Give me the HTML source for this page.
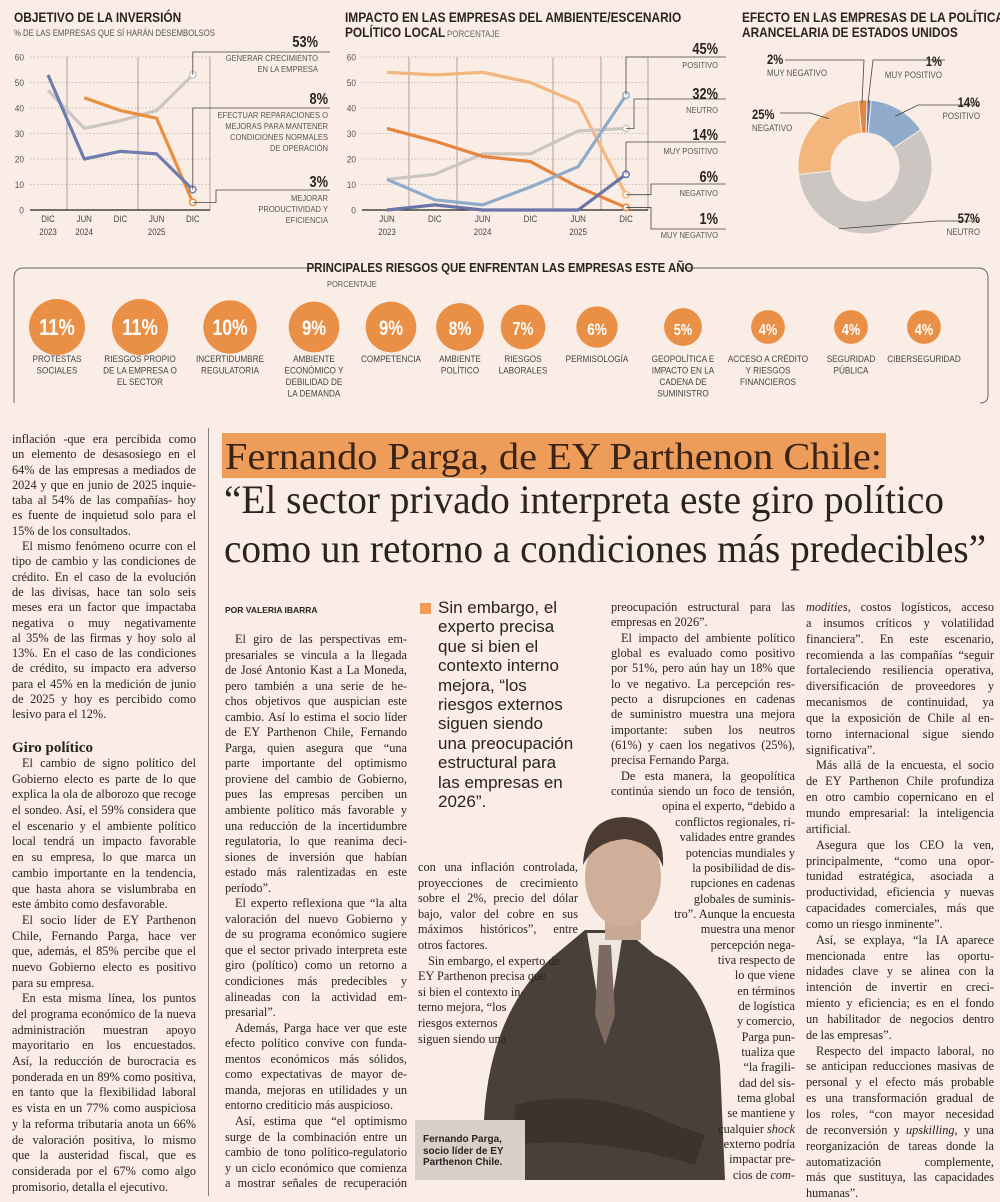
<!DOCTYPE html>
<html lang="es"><head><meta charset="utf-8">
<style>
html,body{margin:0;padding:0;}
body{width:1000px;height:1196px;background:#f9ede5;position:relative;overflow:hidden;font-family:"Liberation Serif",serif;color:#2b231f;}
svg text{font-family:"Liberation Sans",sans-serif;}
.col{position:absolute;font-size:12.3px;}
.col div{white-space:nowrap;text-align:justify;text-align-last:justify;height:var(--lh);line-height:var(--lh);}
.col div.l{text-align-last:left;}
.col div.i{padding-left:10px;}
.col div.r{text-align-last:right;}
.col div.h{font-weight:bold;font-size:15px;text-align-last:left;}
</style></head>
<body>
<svg id="top" width="1000" height="410" style="position:absolute;left:0;top:0">
  <text x="14" y="22" font-size="13.5" font-weight="bold" fill="#2b231f">OBJETIVO DE LA INVERSIÓN</text>
  <text x="14" y="36" font-size="8.8" fill="#555">% DE LAS EMPRESAS QUE SÍ HARÁN DESEMBOLSOS</text>
  <text x="345" y="22" font-size="13.5" font-weight="bold" fill="#2b231f">IMPACTO EN LAS EMPRESAS DEL AMBIENTE/ESCENARIO</text>
  <text x="345" y="37" font-size="13.5" font-weight="bold" fill="#2b231f">POLÍTICO LOCAL</text>
  <text x="447" y="37" font-size="9" fill="#666">PORCENTAJE</text>
  <text x="742" y="22" font-size="13.5" font-weight="bold" fill="#2b231f">EFECTO EN LAS EMPRESAS DE LA POLÍTICA</text>
  <text x="742" y="37" font-size="13.5" font-weight="bold" fill="#2b231f">ARANCELARIA DE ESTADOS UNIDOS</text>
  <g id="c1"></g><g id="c2"></g><g id="c3"></g><g id="c4"></g>
  <path d="M14,403 L14,278 Q14,268 24,268 L318,268 M680,268 L978,268 Q988,268 988,278 L988,395 Q988,403 980,403" fill="none" stroke="#666" stroke-width="1"/>
  <text x="500" y="272" font-size="13" font-weight="bold" fill="#2b231f" text-anchor="middle">PRINCIPALES RIESGOS QUE ENFRENTAN LAS EMPRESAS ESTE AÑO</text>
  <text x="327" y="287" font-size="8.5" fill="#555">PORCENTAJE</text>
</svg>
<script>
const NS="http://www.w3.org/2000/svg";
function mk(p,tag,attrs,txt){const e=document.createElementNS(NS,tag);for(const k in attrs)e.setAttribute(k,attrs[k]);if(txt!==undefined)e.textContent=txt;p.appendChild(e);return e;}
// ---- Chart 1 data
const c1Periods=["DIC|2023","JUN|2024","DIC|","JUN|2025","DIC|"];
const c1Crecimiento=[47,32,35,39,53];
const c1Reparaciones=[53,20,23,22,8];
const c1Productividad=[null,44,39,36,3];
const c1Ticks=[0,10,20,30,40,50,60];
// ---- Chart 2 data
const c2Periods=["JUN|2023","DIC|","JUN|2024","DIC|","JUN|2025","DIC|"];
const c2Negativo=[54,53,54,50,42,6];
const c2MuyNegativo=[32,27,21,19,9,1];
const c2Neutro=[12,14,22,22,31,32];
const c2Positivo=[12,4,2,9,17,45];
const c2MuyPositivo=[0,2,0,0,0,14];
// ---- Donut data
const dLabels=["MUY POSITIVO","POSITIVO","NEUTRO","NEGATIVO","MUY NEGATIVO"];
const dValues=[1,14,57,25,2];
// ---- Risks data
const rLabels=[["PROTESTAS","SOCIALES"],["RIESGOS PROPIO","DE LA EMPRESA O","EL SECTOR"],["INCERTIDUMBRE","REGULATORIA"],["AMBIENTE","ECONÓMICO Y","DEBILIDAD DE","LA DEMANDA"],["COMPETENCIA"],["AMBIENTE","POLÍTICO"],["RIESGOS","LABORALES"],["PERMISOLOGÍA"],["GEOPOLÍTICA E","IMPACTO EN LA","CADENA DE","SUMINISTRO"],["ACCESO A CRÉDITO","Y RIESGOS","FINANCIEROS"],["SEGURIDAD","PÚBLICA"],["CIBERSEGURIDAD"]];
const rValues=[11,11,10,9,9,8,7,6,5,4,4,4];

function lineChart(g,name,x0,x1,xs,ticks,series,vlines){
  const y=v=>210-v*(153/60);
  ticks.forEach(t=>{
    const l=mk(g,"line",{x1:x0,x2:x1,y1:y(t),y2:y(t),stroke:"#b9b0aa","stroke-dasharray":"1.5,2","stroke-width":0.8});
    
    
    const tx=mk(g,"text",{x:x0-6,y:y(t)+3.5,"font-size":9.5,fill:"#555","text-anchor":"end"},t);
    
    
  });
  vlines.forEach(v=>{const l=mk(g,"line",{x1:v,x2:v,y1:57,y2:210,stroke:"#8a817c","stroke-width":0.7});
    
    });
  const ax=mk(g,"line",{x1:x0,x2:x1,y1:210,y2:210,stroke:"#222","stroke-width":1.3});
  
  
  series.forEach(s=>{
    let d="";s.vals.forEach((v,i)=>{if(v===null)return;d+=(d?"L":"M")+xs[i]+","+y(v);});
    const p=mk(g,"path",{d:d,fill:"none",stroke:s.c,"stroke-width":3.2,"stroke-linejoin":"round"});
    
    
    const last=s.vals.length-1;
    const c=mk(g,"circle",{cx:xs[last],cy:y(s.vals[last]),r:3.2,fill:"#fff",stroke:s.c,"stroke-width":1.5});
    
    
  });
  return y;
}
function xLabels(g,xs,periods){
  periods.forEach((p,i)=>{const [a,b]=p.split("|");
    const t=mk(g,"text",{x:xs[i],y:222,"font-size":9,fill:"#444","text-anchor":"middle"},a);
    
    
    if(b){const t2=mk(g,"text",{x:xs[i],y:235,"font-size":9,fill:"#444","text-anchor":"middle"},b);
      
      }
  });
}
function callout(g,name,big,lines,tx,ty,pts,anchor){
  const p=mk(g,"polyline",{points:pts,fill:"none",stroke:"#444","stroke-width":0.8});
  
  
  const b=mk(g,"text",{x:tx,y:ty,"font-size":16,"font-weight":"bold",fill:"#2b231f","text-anchor":anchor},big);
  
  
  lines.forEach((l,i)=>{const t=mk(g,"text",{x:tx,y:ty+14+i*11,"font-size":8.6,fill:"#555","text-anchor":anchor},l);
    
    });
}
// Chart 1
(function(){
  const g=document.getElementById("c1");
  const x=i=>48+i*36.2;
  const xs=c1Periods.map((_,i)=>x(i));
  const y=lineChart(g,"investment",30,210,xs,c1Ticks,[
    {n:"crecimiento",vals:c1Crecimiento,c:"#cbc6c2"},
    {n:"productividad",vals:c1Productividad,c:"#e98f3f"},
    {n:"reparaciones",vals:c1Reparaciones,c:"#6e7dad"}],[67,138,210]);
  xLabels(g,xs,c1Periods);
  const L=xs[4];
  callout(g,"crecimiento",c1Crecimiento[4]+"%",["GENERAR CRECIMIENTO","EN LA EMPRESA"],318,47,`${L},${y(c1Crecimiento[4])} ${L},52 330,52`,"end");
  callout(g,"reparaciones",c1Reparaciones[4]+"%",["EFECTUAR REPARACIONES O","MEJORAS PARA MANTENER","CONDICIONES NORMALES","DE OPERACIÓN"],328,104,`${L},${y(c1Reparaciones[4])} ${L},108 330,108`,"end");
  callout(g,"productividad",c1Productividad[4]+"%",["MEJORAR","PRODUCTIVIDAD Y","EFICIENCIA"],328,187,`${L},${y(c1Productividad[4])} 216,${y(c1Productividad[4])} 216,190 330,190`,"end");
})();
// Chart 2
(function(){
  const g=document.getElementById("c2");
  const x=i=>387+i*47.8;
  const xs=c2Periods.map((_,i)=>x(i));
  const y=lineChart(g,"political",362,648,xs,c1Ticks,[
    {n:"negativo",vals:c2Negativo,c:"#f3b67c"},
    {n:"neutro",vals:c2Neutro,c:"#cbc6c2"},
    {n:"muy-negativo",vals:c2MuyNegativo,c:"#e6853d"},
    {n:"positivo",vals:c2Positivo,c:"#90acca"},
    {n:"muy-positivo",vals:c2MuyPositivo,c:"#6a76a6"}],[409,457,553,601,648]);
  xLabels(g,xs,c2Periods);
  const L=xs[5];
  callout(g,"positivo",c2Positivo[5]+"%",["POSITIVO"],718,54,`${L},${y(c2Positivo[5])} ${L},57 726,57`,"end");
  callout(g,"neutro",c2Neutro[5]+"%",["NEUTRO"],718,99,`${L},${y(c2Neutro[5])} 634,${y(c2Neutro[5])} 634,99 726,99`,"end");
  callout(g,"muy-positivo",c2MuyPositivo[5]+"%",["MUY POSITIVO"],718,140,`${L},${y(c2MuyPositivo[5])} ${L},142 726,142`,"end");
  callout(g,"negativo",c2Negativo[5]+"%",["NEGATIVO"],718,182,`${L},${y(c2Negativo[5])} 651,${y(c2Negativo[5])} 651,184 726,184`,"end");
  callout(g,"muy-negativo",c2MuyNegativo[5]+"%",["MUY NEGATIVO"],718,224,`${L},${y(c2MuyNegativo[5])} 651,${y(c2MuyNegativo[5])} 651,229 726,229`,"end");
})();
// Donut
(function(){
  const g=document.getElementById("c3");
  const cx=865,cy=167,R=67,r=34;
  const cols=["#6a76a6","#90acca","#cbc6c2","#f3b67c","#e6853d"];
  const tot=dValues.reduce((a,b)=>a+b,0);
  let a0=-Math.PI/2+0.03;
  const mids=[];
  dValues.forEach((v,i)=>{
    const a1=a0+v/tot*2*Math.PI;
    const P=(rad,a)=>[cx+rad*Math.cos(a),cy+rad*Math.sin(a)];
    const big=(a1-a0)>Math.PI?1:0;
    const [x1,y1]=P(R,a0),[x2,y2]=P(R,a1),[x3,y3]=P(r,a1),[x4,y4]=P(r,a0);
    const p=mk(g,"path",{d:`M${x1},${y1}A${R},${R} 0 ${big} 1 ${x2},${y2}L${x3},${y3}A${r},${r} 0 ${big} 0 ${x4},${y4}Z`,fill:cols[i],stroke:"#f9ede5","stroke-width":1});
    
    
    mids.push(a0+(a1-a0)/2);a0=a1;
  });
  const L=[[942,66,"end",`${cx+3},${cy-R+3} 873,60 945,60`],
           [980,107,"end",`${cx+R*0.88*Math.cos(mids[1])},${cy+R*0.88*Math.sin(mids[1])} 918,105 980,105`],
           [980,223,"end",`${cx+R*Math.cos(mids[2]+0.75)},${cy+R*Math.sin(mids[2]+0.75)} 937,221 980,221`],
           [752,119,"start",`${cx+R*0.9*Math.cos(mids[3]+0.25)},${cy+R*0.9*Math.sin(mids[3]+0.25)} 810,113 780,113`],
           [767,64,"start",`${cx-3},${cy-R+3} 864,60 785,60`]];
  const names=["muy-positivo","positivo","neutro","negativo","muy-negativo"];
  dValues.forEach((v,i)=>{
    const [tx,ty,an,pts]=L[i];
    const pl=mk(g,"polyline",{points:pts,fill:"none",stroke:"#444","stroke-width":0.8});
    
    
    const b=mk(g,"text",{x:tx,y:ty,"font-size":14,"font-weight":"bold",fill:"#2b231f","text-anchor":an},v+"%");
    
    
    const t=mk(g,"text",{x:tx,y:ty+12,"font-size":9,fill:"#555","text-anchor":an},dLabels[i]);
    
    
  });
})();
// Risks
(function(){
  const g=document.getElementById("c4");
  const cxs=[57,140,230,314,391,460,523,597,683,768,851,924];
  rValues.forEach((v,i)=>{
    const rad=28*Math.sqrt(v/11);
    const c=mk(g,"circle",{cx:cxs[i],cy:327,r:rad,fill:"#e98f46"});
    
    
    const t=mk(g,"text",{x:cxs[i],y:327+8,"font-size":Math.max(16,23*Math.sqrt(v/11)),"font-weight":"bold",fill:"#fff","text-anchor":"middle"},v+"%");
    
    
    rLabels[i].forEach((l,j)=>{const tl=mk(g,"text",{x:cxs[i],y:362+j*11.5,"font-size":9.3,fill:"#444","text-anchor":"middle"},l);
      
      });
  });
})();
// condense sans text to emulate a narrow typeface
document.querySelectorAll('#top text').forEach(t=>{
  const w=t.getComputedTextLength();
  const fs=parseFloat(t.getAttribute('font-size'));
  const f=fs>=14?0.8:0.88;
  if(w>0){t.setAttribute('textLength',(w*f).toFixed(1));t.setAttribute('lengthAdjust','spacingAndGlyphs');}
});
</script>

<div style="position:absolute;left:208px;top:428px;width:1px;height:768px;background:#8a817c"></div>

<svg width="780" height="170" style="position:absolute;left:210px;top:425px">
  <rect x="12" y="8" width="664" height="45" fill="#ee9c5a"/>
  <text x="15" y="44" font-size="38" fill="#3a2418" textLength="657" lengthAdjust="spacingAndGlyphs" style="font-family:'Liberation Serif',serif">Fernando Parga, de EY Parthenon Chile:</text>
  <text x="14" y="88" font-size="40" fill="#2b231f" textLength="720" lengthAdjust="spacingAndGlyphs" style="font-family:'Liberation Serif',serif">“El sector privado interpreta este giro político</text>
  <text x="14" y="137" font-size="40" fill="#2b231f" textLength="762" lengthAdjust="spacingAndGlyphs" style="font-family:'Liberation Serif',serif">como un retorno a condiciones más predecibles”</text>
</svg>

<div class="col" style="left:12px;top:432px;width:184px;--lh:15.3px">
<div>inflación -que era percibida como</div><div>un elemento de desasosiego en el</div><div>64% de las empresas a mediados de</div><div>2024 y que en junio de 2025 inquie-</div><div>taba al 54% de las compañías- hoy</div><div>es fuente de inquietud solo para el</div><div class="l">15% de los consultados.</div>
<div class="i">El mismo fenómeno ocurre con el</div><div>tipo de cambio y las condiciones de</div><div>crédito. En el caso de la evolución</div><div>de las divisas, hace tan solo seis</div><div>meses era un factor que impactaba</div><div>negativa o muy negativamente</div><div>al 35% de las firmas y hoy solo al</div><div>13%. En el caso de las condiciones</div><div>de crédito, su impacto era adverso</div><div>para el 45% en la medición de junio</div><div>de 2025 y hoy es percibido como</div><div class="l">lesivo para el 12%.</div>
<div class="l"></div><div class="h" style="height:18px;line-height:20px">Giro político</div>
</div>
<div class="col" style="left:12px;top:756px;width:184px;--lh:15.7px">
<div class="i">El cambio de signo político del</div><div>Gobierno electo es parte de lo que</div><div>explica la ola de alborozo que recoge</div><div>el sondeo. Así, el 59% considera que</div><div>el escenario y el ambiente político</div><div>local tendrá un impacto favorable</div><div>en su empresa, lo que marca un</div><div>cambio importante en la tendencia,</div><div>que hasta ahora se vislumbraba en</div><div class="l">este ámbito como desfavorable.</div>
<div class="i">El socio líder de EY Parthenon</div><div>Chile, Fernando Parga, hace ver</div><div>que, además, el 85% percibe que el</div><div>nuevo Gobierno electo es positivo</div><div class="l">para su empresa.</div>
<div class="i">En esta misma línea, los puntos</div><div>del programa económico de la nueva</div><div>administración muestran apoyo</div><div>mayoritario en los encuestados.</div><div>Así, la reducción de burocracia es</div><div>ponderada en un 89% como positiva,</div><div>en tanto que la flexibilidad laboral</div><div>es vista en un 77% como auspiciosa</div><div>y la reforma tributaria anota un 66%</div><div>de valoración positiva, lo mismo</div><div>que la austeridad fiscal, que es</div><div>considerada por el 67% como algo</div><div class="l">promisorio, detalla el ejecutivo.</div>
</div>

<div style="position:absolute;left:225px;top:605px;font:bold 8.5px 'Liberation Sans',sans-serif;color:#2b231f">POR VALERIA IBARRA</div>

<div class="col" style="left:225px;top:632px;width:182px;--lh:15.55px">
<div class="i">El giro de las perspectivas em-</div><div>presariales se vincula a la llegada</div><div>de José Antonio Kast a La Moneda,</div><div>pero también a una serie de he-</div><div>chos objetivos que auspician este</div><div>cambio. Así lo estima el socio líder</div><div>de EY Parthenon Chile, Fernando</div><div>Parga, quien asegura que “una</div><div>parte importante del optimismo</div><div>proviene del cambio de Gobierno,</div><div>pues las empresas perciben un</div><div>ambiente político más favorable y</div><div>una reducción de la incertidumbre</div><div>regulatoria, lo que reanima deci-</div><div>siones de inversión que habían</div><div>estado más ralentizadas en este</div><div class="l">período”.</div>
<div class="i">El experto reflexiona que “la alta</div><div>valoración del nuevo Gobierno y</div><div>de su programa económico sugiere</div><div>que el sector privado interpreta este</div><div>giro (político) como un retorno a</div><div>condiciones más predecibles y</div><div>alineadas con la actividad em-</div><div class="l">presarial”.</div>
<div class="i">Además, Parga hace ver que este</div><div>efecto político convive con funda-</div><div>mentos económicos más sólidos,</div><div>como expectativas de mayor de-</div><div>manda, mejoras en utilidades y un</div><div class="l">entorno crediticio más auspicioso.</div>
<div class="i">Así, estima que “el optimismo</div><div>surge de la combinación entre un</div><div>cambio de tono político-regulatorio</div><div>y un ciclo económico que comienza</div><div>a mostrar señales de recuperación</div>
</div>

<div style="position:absolute;left:420px;top:598px;width:180px;font:17px/19.4px 'Liberation Sans',sans-serif;color:#2b231f">
<span style="position:absolute;left:0;top:5px;width:11px;height:11px;background:#ee9c5a"></span>
<div style="padding-left:18px">Sin embargo, el<br>experto precisa<br>que si bien el<br>contexto interno<br>mejora, “los<br>riesgos externos<br>siguen siendo<br>una preocupación<br>estructural para<br>las empresas en<br>2026”.</div>
</div>

<svg width="250" height="380" style="position:absolute;left:475px;top:805px">
  <path d="M5,375 L10,300 Q20,200 80,150 L110,125 L150,125 L180,150 Q235,175 245,260 L250,375 Z" fill="#4a403a"/>
  <path d="M112,128 L130,240 L148,128 Z" fill="#efe6df"/>
  <path d="M124,140 L136,140 L140,210 L130,240 L120,210 Z" fill="#7a6a60"/>
  <path d="M40,300 Q120,280 200,320 L230,330 L220,360 Q120,330 40,340 Z" fill="#3c332e"/>
  <rect x="130" y="105" width="36" height="30" fill="#c8a996"/>
  <ellipse cx="148" cy="72" rx="38" ry="50" fill="#cfae9a"/>
  <path d="M108,60 Q110,12 150,12 Q190,14 188,62 Q180,38 150,34 Q120,36 108,60 Z" fill="#4b3b32"/>
</svg>
<div style="position:absolute;left:415px;top:1120px;width:110px;height:60px;background:#d8cfca;font:bold 10px/11.5px 'Liberation Sans',sans-serif;color:#2b231f;padding:14px 0 0 8px;box-sizing:border-box">Fernando Parga,<br>socio líder de EY<br>Parthenon Chile.</div>

<div class="col" style="left:418px;top:860px;width:160px;--lh:15.6px">
<div>con una inflación controlada,</div><div>proyecciones de crecimiento</div><div>sobre el 2%, precio del dólar</div><div>bajo, valor del cobre en sus</div><div>máximos históricos”, entre</div><div class="l">otros factores.</div><div class="i l">Sin embargo, el experto de</div><div class="l">EY Parthenon precisa que</div><div class="l">si bien el contexto in-</div><div class="l">terno mejora, “los</div><div class="l">riesgos externos</div><div class="l">siguen siendo una</div>
</div>

<div class="col" style="left:611px;top:600px;width:184px;--lh:15.35px">
<div>preocupación estructural para las</div><div class="l">empresas en 2026”.</div><div class="i">El impacto del ambiente político</div><div>global es evaluado como positivo</div><div>por 51%, pero aún hay un 18% que</div><div>lo ve negativo. La percepción res-</div><div>pecto a disrupciones en cadenas</div><div>de suministro muestra una mejora</div><div>importante: suben los neutros</div><div>(61%) y caen los negativos (25%),</div><div class="l">precisa Fernando Parga.</div><div class="i">De esta manera, la geopolítica</div><div>continúa siendo un foco de tensión,</div>
<div class="r">opina el experto, “debido a</div><div class="r">conflictos regionales, ri-</div><div class="r">validades entre grandes</div><div class="r">potencias mundiales y</div><div class="r">la posibilidad de dis-</div><div class="r">rupciones en cadenas</div><div class="r">globales de suminis-</div><div class="r">tro”. Aunque la encuesta</div><div class="r">muestra una menor</div><div class="r">percepción nega-</div><div class="r">tiva respecto de</div><div class="r">lo que viene</div><div class="r">en términos</div><div class="r">de logística</div><div class="r">y comercio,</div><div class="r">Parga pun-</div><div class="r">tualiza que</div><div class="r">“la fragili-</div><div class="r">dad del sis-</div><div class="r">tema global</div><div class="r">se mantiene y</div><div class="r">cualquier <i>shock</i></div><div class="r">externo podría</div><div class="r">impactar pre-</div><div class="r">cios de <i>com-</i></div>
</div>

<div class="col" style="left:806px;top:600px;width:188px;--lh:15.85px">
<div><i>modities</i>, costos logísticos, acceso</div><div>a insumos críticos y volatilidad</div><div>financiera”. En este escenario,</div><div>recomienda a las compañías “seguir</div><div>fortaleciendo resiliencia operativa,</div><div>diversificación de proveedores y</div><div>mecanismos de continuidad, ya</div><div>que la exposición de Chile al en-</div><div>torno internacional sigue siendo</div><div class="l">significativa”.</div>
<div class="i">Más allá de la encuesta, el socio</div><div>de EY Parthenon Chile profundiza</div><div>en otro cambio copernicano en el</div><div>mundo empresarial: la inteligencia</div><div class="l">artificial.</div>
<div class="i">Asegura que los CEO la ven,</div><div>principalmente, “como una opor-</div><div>tunidad estratégica, asociada a</div><div>productividad, eficiencia y nuevas</div><div>capacidades comerciales, más que</div><div class="l">como un riesgo inminente”.</div>
<div class="i">Así, se explaya, “la IA aparece</div><div>mencionada entre las oportu-</div><div>nidades clave y se alinea con la</div><div>intención de invertir en creci-</div><div>miento y eficiencia; es en el fondo</div><div>un habilitador de negocios dentro</div><div class="l">de las empresas”.</div>
<div class="i">Respecto del impacto laboral, no</div><div>se anticipan reducciones masivas de</div><div>personal y el efecto más probable</div><div>es una transformación gradual de</div><div>los roles, “con mayor necesidad</div><div>de reconversión y <i>upskilling</i>, y una</div><div>reorganización de tareas donde la</div><div>automatización complemente,</div><div>más que sustituya, las capacidades</div><div class="l">humanas”.</div>
</div>
</body></html>
